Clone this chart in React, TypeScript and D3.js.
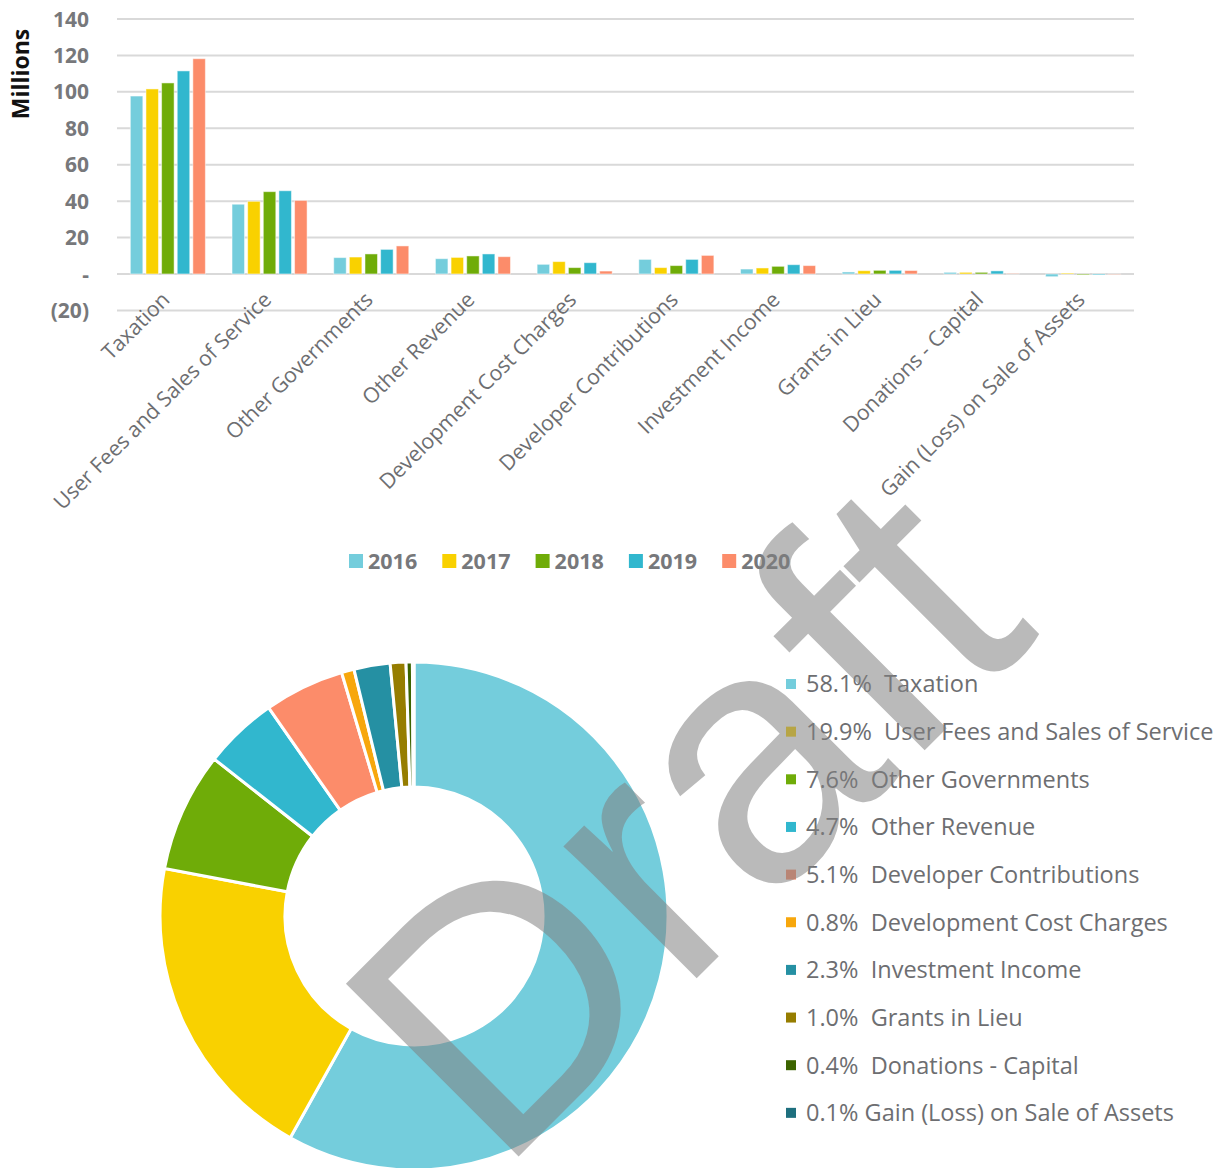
import React from "react";
import * as d3 from "d3";

const categories = [
  "Taxation",
  "User Fees and Sales of Service",
  "Other Governments",
  "Other Revenue",
  "Development Cost Charges",
  "Developer Contributions",
  "Investment Income",
  "Grants in Lieu",
  "Donations - Capital",
  "Gain (Loss) on Sale of Assets",
];
const years = ["2016", "2017", "2018", "2019", "2020"];
const v2016 = [97.7, 38.3, 9.0, 8.4, 5.3, 8.0, 2.7, 1.1, 0.9, -1.5];
const v2017 = [101.6, 39.9, 9.3, 9.1, 6.8, 3.5, 3.3, 1.8, 0.9, 0.5];
const v2018 = [104.9, 45.2, 11.0, 9.9, 3.5, 4.6, 4.2, 2.0, 0.9, -0.5];
const v2019 = [111.5, 45.7, 13.5, 11.0, 6.2, 8.0, 5.1, 2.0, 1.7, -0.5];
const v2020 = [118.2, 40.4, 15.4, 9.5, 1.6, 10.2, 4.6, 1.9, 0.2, -0.2];
const yearColors = ["#74CDDC", "#F9D100", "#6FAC08", "#31B7CE", "#FC8C6A"];
const yTicks = [140, 120, 100, 80, 60, 40, 20, 0, -20];

const pieLabels = [
  "Taxation",
  "User Fees and Sales of Service",
  "Other Governments",
  "Other Revenue",
  "Developer Contributions",
  "Development Cost Charges",
  "Investment Income",
  "Grants in Lieu",
  "Donations - Capital",
  "Gain (Loss) on Sale of Assets",
];
const pieValues = [58.1, 19.9, 7.6, 4.7, 5.1, 0.8, 2.3, 1.0, 0.4, 0.1];
const pieColors = [
  "#74CDDC",
  "#F9D100",
  "#6FAC08",
  "#31B7CE",
  "#FC8C6A",
  "#F7A70C",
  "#2590A3",
  "#967D00",
  "#3C6400",
  "#1E6F7E",
];
const pieSep = ["  ", "  ", "  ", "  ", "  ", "  ", "  ", "  ", "  ", " "];

const series = [v2016, v2017, v2018, v2019, v2020];
const FONT = "'Open Sans', 'Noto Sans', sans-serif";

export default function App() {
  const W = 1217;
  const H = 1168;
  const x0 = d3
    .scaleBand<string>()
    .domain(categories)
    .range([117, 1134])
    .paddingInner(0.262)
    .paddingOuter(0.131);
  const x1 = d3
    .scaleBand<string>()
    .domain(years)
    .range([0, x0.bandwidth()])
    .paddingInner(0.2)
    .paddingOuter(0);
  const y = d3.scaleLinear().domain([-20, 140]).range([310.4, 19]);
  const fmt = (v: number) => (v === 0 ? "-" : v < 0 ? `(${Math.abs(v)})` : `${v}`);

  const cx = 414;
  const cy = 916;
  const rOuter = 254;
  const rInner = 129;
  const pie = d3
    .pie<number>()
    .sort(null)
    .value((d) => d)
    .startAngle(0)
    .endAngle(2 * Math.PI);
  const arcs = pie(pieValues);
  const arc = d3.arc<d3.PieArcDatum<number>>().innerRadius(rInner).outerRadius(rOuter);

  return (
    <svg
      width={W}
      height={H}
      style={{ position: "absolute", left: 0, top: 0, background: "#fff" }}
      fontFamily={FONT}
    >
      {/* gridlines */}
      {yTicks.map((t) => (
        <line key={t} x1={117} x2={1134} y1={y(t)} y2={y(t)} stroke="#D9D9D9" strokeWidth={2} />
      ))}
      {yTicks.map((t) => (
        <text
          key={"l" + t}
          x={89}
          y={y(t)}
          dy="0.36em"
          textAnchor="end"
          fontSize={21}
          fontWeight="bold"
          fill="#77787B"
        >
          {fmt(t)}
        </text>
      ))}
      <text
        transform="translate(29,74) rotate(-90)"
        textAnchor="middle"
        fontSize={23}
        fontWeight="bold"
        fill="#111"
      >
        Millions
      </text>
      {/* bars */}
      {categories.map((c, ci) => (
        <g key={c} transform={`translate(${x0(c)},0)`}>
          {series.map((s, si) => {
            const v = s[ci];
            const y0 = y(0);
            const yv = y(v);
            return (
              <rect
                key={si}
                x={x1(years[si])}
                y={Math.min(y0, yv)}
                width={x1.bandwidth()}
                height={Math.abs(yv - y0)}
                fill={yearColors[si]}
                stroke="#ffffff"
                strokeOpacity={0.5}
                strokeWidth={1}
              />
            );
          })}
        </g>
      ))}
      {/* category labels */}
      {categories.map((c) => {
        const xc = (x0(c) as number) + x0.bandwidth() / 2 + 3;
        return (
          <text
            key={"c" + c}
            transform={`translate(${xc},${301}) rotate(-45)`}
            textAnchor="end"
            fontSize={21.2}
            fill="#6D6E71"
          >
            {c}
          </text>
        );
      })}
      {/* bar legend */}
      {years.map((yr, i) => (
        <g key={"lg" + yr} transform={`translate(${349 + i * 93.3},554)`}>
          <rect x={0} y={0} width={14} height={14} fill={yearColors[i]} />
          <text x={19} y={15} fontSize={21.5} fontWeight="bold" fill="#77787B">
            {yr}
          </text>
        </g>
      ))}
      {/* donut */}
      <g transform={`translate(${cx},${cy})`}>
        {arcs.map((a, i) => (
          <path key={"a" + i} d={arc(a) as string} fill={pieColors[i]} stroke="#fff" strokeWidth={3} />
        ))}
      </g>
      {/* donut legend */}
      {pieLabels.map((lab, i) => (
        <g key={"pl" + i} transform={`translate(786,${684 + i * 47.65})`}>
          <rect x={0} y={-5} width={10} height={10} fill={pieColors[i]} />
          <text x={20} y={0} dy="0.36em" fontSize={23.5} fill="#6D6E71" style={{ whiteSpace: "pre" }}>
            {`${pieValues[i].toFixed(1)}%${pieSep[i]}${lab}`}
          </text>
        </g>
      ))}
      {/* watermark */}
      <text
        transform="translate(770,905) rotate(-45)"
        textAnchor="middle"
        fontFamily="'Liberation Sans', Arial, sans-serif"
        fontSize={355}
        fill="#808080"
        fillOpacity={0.54}
      >
        Draft
      </text>
    </svg>
  );
}
